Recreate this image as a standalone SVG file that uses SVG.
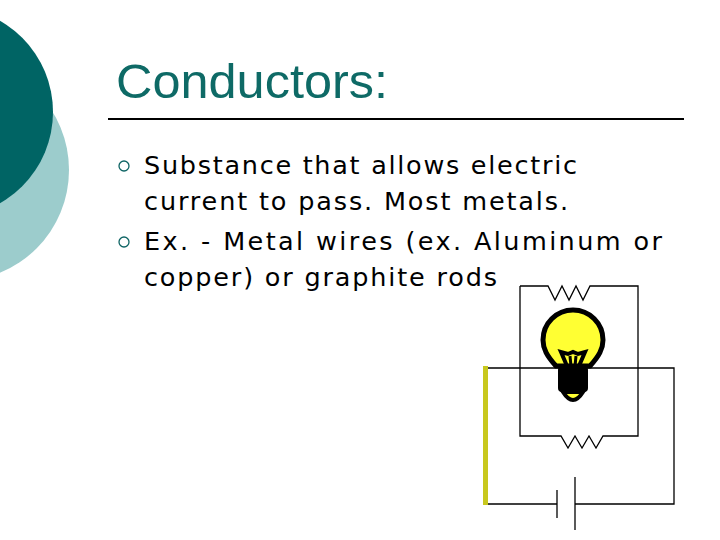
<svg xmlns="http://www.w3.org/2000/svg" width="720" height="540" viewBox="0 0 720 540">
<style>
.w{fill:none;stroke:#000;stroke-width:1.3}
.t{font-family:"DejaVu Sans","Verdana",sans-serif;font-size:25.5px;fill:#000}
.b{fill:none;stroke:#0e6464;stroke-width:1.3}
</style>
<rect width="720" height="540" fill="#fff"/>
<g id="deco">
<circle cx="-42" cy="170" r="111" fill="#9ccccc"/>
<circle cx="-52" cy="112" r="105" fill="#006464"/>
</g>
<g id="title">
<text x="116" y="98" font-family="Liberation Sans,Arial,sans-serif" font-size="49" fill="#0e6a66" textLength="272" lengthAdjust="spacingAndGlyphs">Conductors:</text>
<line x1="108" y1="119" x2="684" y2="119" stroke="#000" stroke-width="2"/>
</g>
<g id="bullets">
<circle cx="124" cy="166" r="5" class="b"/>
<circle cx="124" cy="242" r="5" class="b"/>
<text class="t" x="144" y="174" textLength="433">Substance that allows electric</text>
<text class="t" x="144" y="210" textLength="424">current to pass. Most metals.</text>
<text class="t" x="144" y="250" textLength="518">Ex. - Metal wires (ex.  Aluminum or</text>
<text class="t" x="144" y="286" textLength="353">copper) or graphite rods</text>
</g>
<g id="connectors">
<polyline class="w" points="520,286 548,286 555,300 562,286 569,300 576,286 583,300 590,286 603,286 638,286 638,436 603,436 596,448 589,436 582,448 575,436 568,448 561,436 548,436 520,436 520,286"/>
<polyline class="w" points="485,368 674,368 674,504 575,504"/>
<line class="w" x1="485" y1="504" x2="557" y2="504"/>
<line class="w" x1="557" y1="490" x2="557" y2="518"/>
<line class="w" x1="575" y1="477" x2="575" y2="530"/>
<rect x="483" y="366" width="5" height="139" fill="#c8c81e"/>
</g>
<g id="bulb">
<path d="M556,366 C547,356 543,349 543,340 A30,30 0 1 1 603,340 C603,349 599,356 590,366 Z" fill="#ffff33" stroke="#000" stroke-width="5"/>
<rect x="558" y="366" width="30" height="26" rx="4" fill="#000"/>
<path d="M563,392 L583,392 Q578,400 573,400 Q568,400 563,392Z" fill="#ffff33" stroke="#000" stroke-width="4"/>
<path d="M561,352 L567,366 L579,366 L585,352 L578,354 L573,352 L568,354 Z" fill="none" stroke="#000" stroke-width="4"/>
<line x1="570" y1="356" x2="571" y2="366" stroke="#000" stroke-width="3"/>
<line x1="576" y1="356" x2="575" y2="366" stroke="#000" stroke-width="3"/>
</g>
</svg>
